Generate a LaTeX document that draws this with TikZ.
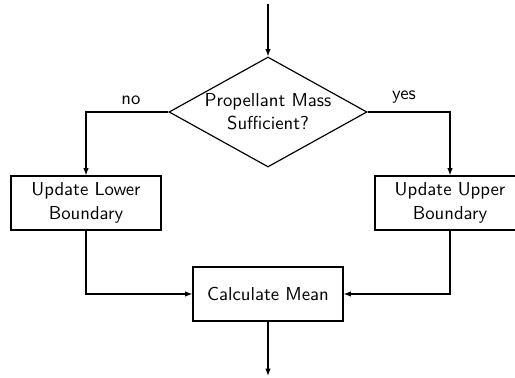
\documentclass[tikz,border=0pt]{standalone}
\usetikzlibrary{shapes.geometric,arrows.meta}
\begin{document}
\begin{tikzpicture}[x=0.55pt,y=-0.55pt,
  font=\sffamily\fontsize{10.3}{12.8}\selectfont,
  line width=0.65pt,
  arr/.style={-{Latex[length=4pt,width=3pt]}},
  procbox/.style={draw,rectangle,align=center,minimum width=82.5pt,minimum height=29.7pt,inner sep=0pt},
  decbox/.style={draw,diamond,aspect=1.8,align=center,minimum width=108.9pt,minimum height=60.5pt,inner sep=0pt},
  lbl/.style={inner sep=0pt}]
\useasboundingbox (0,0) rectangle (515,378);
\coordinate (top) at (268,4);
\coordinate (bot) at (268,376);
\node[decbox] (dec) at (268,112) {Propellant Mass\\Sufficient?};
\node[procbox] (lower) at (86,203) {Update Lower\\Boundary};
\node[procbox] (upper) at (450,203) {Update Upper\\Boundary};
\node[procbox] (mean) at (268,294) {Calculate Mean};
\node[lbl] (nolab) at (131,100) {no};
\node[lbl] (yeslab) at (404,97) {yes};
\draw[arr] (top) -- (dec.north);
\draw[arr] (dec.west) -| (lower.north);
\draw[arr] (dec.east) -| (upper.north);
\draw[arr] (lower.south) |- (mean.west);
\draw[arr] (upper.south) |- (mean.east);
\draw[arr] (mean.south) -- (bot);
\end{tikzpicture}
\end{document}
